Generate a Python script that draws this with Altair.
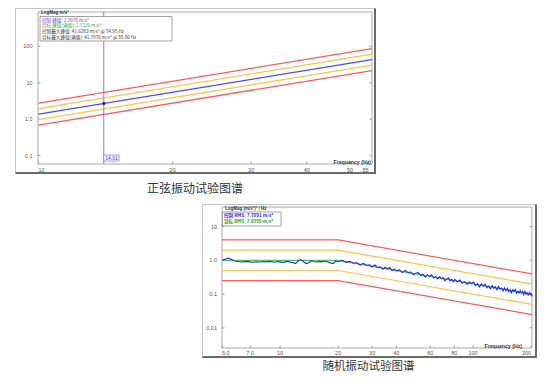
import altair as alt
import pandas as pd

W, H = 532, 366
CJK = "Noto Sans CJK SC"
LAT = "Liberation Sans"

# ---------------- sine test (top panel) ----------------
sine_freq = [10, 56]
sine_abort_hi = [2.76, 86.6]
sine_alarm_hi = [1.95, 61.2]
sine_control = [1.38, 43.3]
sine_alarm_lo = [0.98, 30.6]
sine_abort_lo = [0.69, 21.7]
sine_xticks = [10, 20, 30, 40, 50, 55]
sine_xtick_labels = ["10", "20", "30", "40", "50", "55"]
sine_yticks = [0.1, 1, 10, 100]
sine_ytick_labels = ["0.1", "1.0", "10", "100"]
sine_cursor_freq = [14.01]
sine_cursor_val = [2.7078]
sine_cursor_label = ["14.01"]
sine_legend = [
    "控制 峰值: 2.7078 m/s²",
    "目标 峰值(满级): 2.7126 m/s²",
    "控制最大峰值: 41.6283 m/s² @ 54.95 Hz",
    "目标最大峰值(满级): 41.7978 m/s² @ 55.00 Hz",
]
sine_unit = ["LogMag m/s²"]
sine_caption = ["正弦振动试验图谱"]

# ---------------- random test (bottom panel) ----------------
rand_prof_freq = [5, 20, 202]
rand_abort_hi = [4.0, 4.0, 0.396]
rand_alarm_hi = [2.0, 2.0, 0.198]
rand_reference = [1.0, 1.0, 0.099]
rand_alarm_lo = [0.5, 0.5, 0.0495]
rand_abort_lo = [0.25, 0.25, 0.0248]
rand_ctrl_freq = [
    5.0, 5.2, 5.4, 5.6, 5.8, 6.1, 6.4, 6.7, 7.0, 7.3, 7.6, 7.9, 8.2, 8.5, 8.8, 9.1,
    9.4, 9.7, 10.0, 10.4, 10.8, 11.2, 11.6, 12.0, 12.4, 12.8, 13.2, 13.6, 14.0, 14.5,
    15.0, 15.5, 16.0, 16.5, 17.0, 17.6, 18.2, 18.8, 19.4, 20.0,
    21, 22, 23, 24, 25, 26, 27, 28, 29, 30, 31, 32, 33, 34, 35, 36, 37, 38, 39, 40,
    41.5, 43, 44.5, 46, 47.5, 49, 50.5, 52, 53.5, 55, 56.5, 58, 59.5, 61, 62.5, 64,
    65.5, 67, 68.5, 70, 71.5, 73, 74.5, 76, 77.5, 79, 80.5,
    83, 85.5, 88, 90.5, 93, 95.5, 98, 100.5, 103, 105.5, 108, 110.5, 113, 115.5, 118,
    120.5, 123, 125.5, 128, 130.5, 133, 135.5, 138, 140.5, 143, 145.5, 148, 150.5, 153,
    155.5, 158, 160.5, 163, 165.5, 168, 170.5, 173, 175.5, 178, 180.5, 183, 185.5, 188,
    190.5, 193, 195.5, 198, 200.5, 202,
]
rand_ctrl = [
    1.00, 1.08, 1.16, 1.05, 0.95, 0.92, 0.90, 0.93, 0.90, 0.88, 0.91, 0.89, 0.92, 0.90, 0.93, 0.91,
    0.88, 0.92, 0.90, 0.87, 0.93, 0.90, 0.86, 0.80, 0.95, 1.05, 0.92, 0.80, 0.83, 0.97,
    0.92, 0.89, 0.93, 0.90, 0.94, 0.91, 0.84, 0.80, 0.95, 0.92,
    0.990, 0.873, 0.939, 0.817, 0.848, 0.723, 0.815, 0.714, 0.738, 0.633, 0.723, 0.606, 0.636, 0.541, 0.623, 0.561, 0.611, 0.500, 0.544, 0.490,
    0.521, 0.432, 0.499, 0.431, 0.450, 0.371, 0.412, 0.431, 0.355, 0.386, 0.319, 0.376, 0.336, 0.374, 0.301, 0.328,
    0.281, 0.328, 0.283, 0.309, 0.249, 0.282, 0.303, 0.247, 0.276, 0.233, 0.273,
    0.231, 0.262, 0.211, 0.234, 0.194, 0.228, 0.206, 0.229, 0.179, 0.203, 0.163, 0.199, 0.172, 0.196, 0.154,
    0.174, 0.142, 0.177, 0.148, 0.165, 0.135, 0.169, 0.139, 0.151, 0.123, 0.151, 0.127, 0.149, 0.118,
    0.135, 0.109, 0.136, 0.119, 0.137, 0.106, 0.122, 0.107, 0.127, 0.106, 0.119, 0.096, 0.121, 0.099,
    0.111, 0.094, 0.111, 0.095, 0.103, 0.085,
]
rand_xticks = [5, 7, 10, 20, 30, 40, 60, 80, 100, 200]
rand_xtick_labels = ["5.0", "7.0", "10", "20", "30", "40", "60", "80", "100", "200"]
rand_yticks = [0.01, 0.1, 1, 10]
rand_ytick_labels = ["0.01", "0.1", "1.0", "10"]
rand_legend = ["控制 RMS: 7.7091 m/s²", "目标 RMS: 7.8395 m/s²"]
rand_unit = ["LogMag (m/s²)² / Hz"]
rand_caption = ["随机振动试验图谱"]

freq_title = ["Frequency (Hz)"]

RED, ORANGE, BLUE, GREEN = "#ff5a5a", "#ffc24a", "#4a4aff", "#5cc05c"


def one(v):
    return pd.DataFrame({"t": v})


def box(x1, x2, y1, y2, stroke, fill="white", sw=1.0):
    return alt.Chart(one([0])).mark_rect(fill=fill, stroke=stroke, strokeWidth=sw).encode(
        x=alt.value(x1), x2=alt.value(x2), y=alt.value(y1), y2=alt.value(y2))


def hline(x1, x2, y, color, sw):
    return alt.Chart(one([0])).mark_rule(color=color, strokeWidth=sw).encode(
        x=alt.value(x1), x2=alt.value(x2), y=alt.value(y))


def vline(x, y1, y2, color, sw):
    return alt.Chart(one([0])).mark_rule(color=color, strokeWidth=sw).encode(
        x=alt.value(x), y=alt.value(y1), y2=alt.value(y2))


def label(text, x, y, size, color="#333", align="left", font=CJK, weight="normal"):
    return alt.Chart(one(text)).mark_text(
        align=align, baseline="middle", fontSize=size, font=font, color=color, fontWeight=weight
    ).encode(text="t:N", x=alt.value(x), y=alt.value(y))


def long_df(freqs, series):
    rows = []
    for name, vals in series:
        for f, v in zip(freqs, vals):
            rows.append({"f": f, "v": v, "s": name})
    return pd.DataFrame(rows)


def xlabels(vals, labs, scale, y):
    n = len(vals)
    df = pd.DataFrame({"f": vals, "t": labs,
                       "a": ["left"] + ["center"] * (n - 2) + ["right"]})
    layers = []
    for al in ["left", "center", "right"]:
        layers.append(alt.Chart(df[df.a == al]).mark_text(
            align=al, baseline="middle", fontSize=5.5, font=LAT, color="#555").encode(
            x=alt.X("f:Q", scale=scale, axis=None), y=alt.value(y), text="t:N"))
    return layers


def ylabels(vals, labs, scale, x):
    return alt.Chart(pd.DataFrame({"v": vals, "t": labs})).mark_text(
        align="right", baseline="middle", fontSize=5.5, font=LAT, color="#555").encode(
        y=alt.Y("v:Q", scale=scale, axis=None), x=alt.value(x), text="t:N")


# ================= top panel geometry (chart px) =================
TX0, TX1, TY0, TY1 = 30, 364, 4, 156
sx = alt.Scale(type="log", domain=[10, 56], range=[30.5, 364], nice=False)
sy = alt.Scale(type="log", domain=[0.0588, 881], range=[TY1, TY0], nice=False)

sine_df = long_df(sine_freq, [
    ("abort_hi", sine_abort_hi), ("abort_lo", sine_abort_lo),
    ("alarm_hi", sine_alarm_hi), ("alarm_lo", sine_alarm_lo),
    ("control", sine_control),
])
sine_lines = alt.Chart(sine_df).mark_line(strokeWidth=1.3).encode(
    x=alt.X("f:Q", scale=sx, axis=None),
    y=alt.Y("v:Q", scale=sy, axis=None),
    color=alt.Color("s:N", legend=None, scale=alt.Scale(
        domain=["abort_hi", "abort_lo", "alarm_hi", "alarm_lo", "control"],
        range=[RED, RED, ORANGE, ORANGE, BLUE])),
    detail="s:N",
)

sine_ytick_l = alt.Chart(one(sine_yticks)).mark_rule(color="#999").encode(
    y=alt.Y("t:Q", scale=sy, axis=None), x=alt.value(TX0), x2=alt.value(TX0 + 2.5))
sine_ytick_r = alt.Chart(one(sine_yticks)).mark_rule(color="#999").encode(
    y=alt.Y("t:Q", scale=sy, axis=None), x=alt.value(TX1 - 2.5), x2=alt.value(TX1))
sine_xtick = alt.Chart(one(sine_xticks)).mark_rule(color="#999").encode(
    x=alt.X("t:Q", scale=sx, axis=None), y=alt.value(TY1 - 2.5), y2=alt.value(TY1))

cursor_rule = alt.Chart(one(sine_cursor_freq)).mark_rule(color="#7a7aff", strokeWidth=1).encode(
    x=alt.X("t:Q", scale=sx, axis=None), y=alt.value(TY0), y2=alt.value(TY1))
cursor_pt = alt.Chart(pd.DataFrame({"f": sine_cursor_freq, "v": sine_cursor_val})).mark_square(
    size=7, color="#1a1aa0", opacity=1).encode(
    x=alt.X("f:Q", scale=sx, axis=None), y=alt.Y("v:Q", scale=sy, axis=None))
cursor_box = alt.Chart(one(sine_cursor_freq)).mark_rect(
    fill="white", stroke="#8080ff", strokeWidth=0.8).encode(
    x=alt.X("t:Q", scale=sx, axis=None), x2=alt.value(111), y=alt.value(147), y2=alt.value(153))
cursor_txt = alt.Chart(pd.DataFrame({"f": sine_cursor_freq, "t": sine_cursor_label})).mark_text(
    align="left", baseline="middle", fontSize=5, font=LAT, color="#3030ff", dx=1.5).encode(
    x=alt.X("f:Q", scale=sx, axis=None), y=alt.value(150), text="t:N")

top_layers = [
    box(7.5, 367, 0.5, 165, "#c4c4c4"),
    hline(7.5, 368, 165, "#6a6a6a", 2),
    vline(367, 0.5, 166, "#6a6a6a", 2),
    box(TX0, TX1, TY0, TY1, "#a8a8a8"),
    sine_ytick_l, sine_ytick_r, sine_xtick,
    sine_lines,
    cursor_rule, cursor_pt, cursor_box, cursor_txt,
    box(32, 164, 8.5, 33, "#8a8a8a", sw=0.8),
    label(sine_unit, 33, 4.8, 4.5, "#333", font=LAT, weight="bold"),
    label(sine_legend[0:1], 34, 12.6, 4.6, "#6a35ff"),
    label(sine_legend[1:2], 34, 18.4, 4.6, "#2da52d"),
    label(sine_legend[2:3], 34, 24.2, 4.6, "#333333"),
    label(sine_legend[3:4], 34, 30.0, 4.6, "#333333"),
    label(freq_title, 363, 153.5, 5.2, "#333", align="right", font=LAT, weight="bold"),
    label(sine_caption, 187, 181, 12, "#333", align="center"),
    ylabels(sine_yticks, sine_ytick_labels, sy, 24.5),
] + xlabels(sine_xticks, sine_xtick_labels, sx, 161.5)

# ================= bottom panel geometry (chart px) =================
BX0, BX1, BY0, BY1 = 214, 524, 199, 340
rx = alt.Scale(type="log", domain=[5, 202], range=[BX0, BX1], nice=False)
ry = alt.Scale(type="log", domain=[0.00254, 37.8], range=[BY1, BY0], nice=False)

rand_df = long_df(rand_prof_freq, [
    ("abort_hi", rand_abort_hi), ("abort_lo", rand_abort_lo),
    ("alarm_hi", rand_alarm_hi), ("alarm_lo", rand_alarm_lo),
    ("reference", rand_reference),
])
rand_lines = alt.Chart(rand_df).mark_line(strokeWidth=1.2).encode(
    x=alt.X("f:Q", scale=rx, axis=None),
    y=alt.Y("v:Q", scale=ry, axis=None),
    color=alt.Color("s:N", legend=None, scale=alt.Scale(
        domain=["abort_hi", "abort_lo", "alarm_hi", "alarm_lo", "reference"],
        range=[RED, RED, ORANGE, ORANGE, GREEN])),
    detail="s:N",
)
rand_ctrl_line = alt.Chart(pd.DataFrame({"f": rand_ctrl_freq, "v": rand_ctrl})).mark_line(
    strokeWidth=1.1, color="#1a2cff").encode(
    x=alt.X("f:Q", scale=rx, axis=None), y=alt.Y("v:Q", scale=ry, axis=None))

rand_ytick_l = alt.Chart(one(rand_yticks)).mark_rule(color="#999").encode(
    y=alt.Y("t:Q", scale=ry, axis=None), x=alt.value(BX0), x2=alt.value(BX0 + 2.5))
rand_ytick_r = alt.Chart(one(rand_yticks)).mark_rule(color="#999").encode(
    y=alt.Y("t:Q", scale=ry, axis=None), x=alt.value(BX1 - 2.5), x2=alt.value(BX1))
rand_xtick = alt.Chart(one(rand_xticks)).mark_rule(color="#999").encode(
    x=alt.X("t:Q", scale=rx, axis=None), y=alt.value(BY1 - 2.5), y2=alt.value(BY1))

bottom_layers = [
    box(194.5, 528, 196.5, 349, "#c4c4c4"),
    hline(194.5, 529, 349, "#6a6a6a", 2),
    vline(528, 196.5, 350, "#6a6a6a", 2),
    box(BX0, BX1, BY0, BY1, "#a8a8a8"),
    rand_ytick_l, rand_ytick_r, rand_xtick,
    rand_lines, rand_ctrl_line,
    box(214.5, 273, 204, 218, "#8a8a8a", sw=0.8),
    label(rand_unit, 217, 201.2, 4.5, "#333", font=LAT, weight="bold"),
    label(rand_legend[0:1], 216, 207.6, 4.6, "#2a2aff", weight="bold"),
    label(rand_legend[1:2], 216, 213.8, 4.6, "#26a026", weight="bold"),
    label(freq_title, 514, 337.7, 5.2, "#333", align="right", font=LAT, weight="bold"),
    label(rand_caption, 360.5, 359, 11.5, "#333", align="center"),
    ylabels(rand_yticks, rand_ytick_labels, ry, 209),
] + xlabels(rand_xticks, rand_xtick_labels, rx, 344.5)

chart = alt.layer(*(top_layers + bottom_layers)).resolve_scale(
    x="independent", y="independent", color="independent"
).properties(
    width=W, height=H, autosize=alt.AutoSizeParams(type="none"), padding=0, background="white"
).configure_view(strokeWidth=0)

chart.save("out.html", embed_options={"renderer": "svg", "actions": False})
